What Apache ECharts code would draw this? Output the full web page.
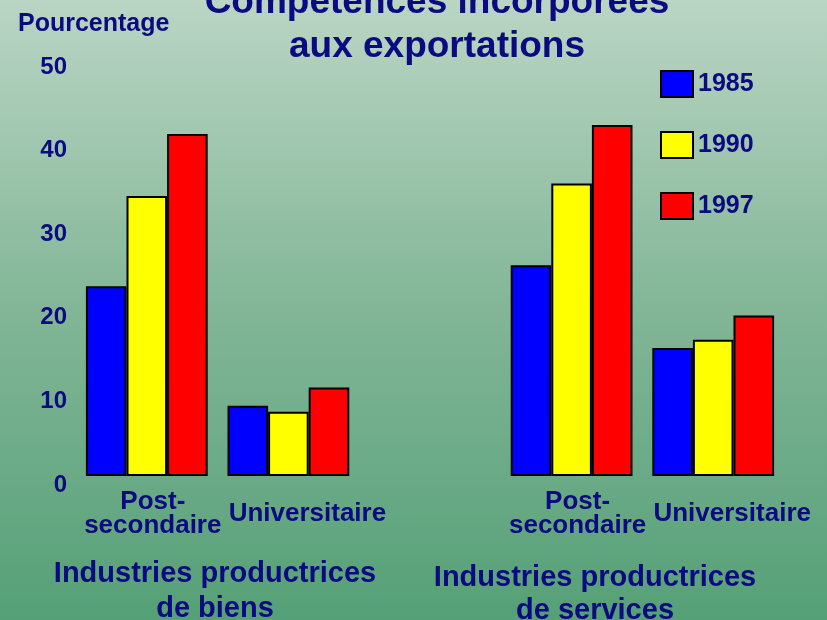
<!DOCTYPE html>
<html>
<head>
<meta charset="utf-8">
<script src="https://cdn.jsdelivr.net/npm/echarts@6/dist/echarts.min.js"></script>
<style>
  html, body { margin: 0; padding: 0; }
  #chart { width: 827px; height: 620px; }
</style>
</head>
<body>
<div id="chart"></div>
<script>
// categories (empty slot between the two industry groups)
const categories = ['Post-\nsecondaire', 'Universitaire', '', 'Post-\nsecondaire', 'Universitaire'];
const years = ['1985', '1990', '1997'];
const colors = ['#0000ff', '#ffff00', '#ff0000'];

// valeurs en pourcentage
const v1985 = [22.7, 8.4, '-', 25.2, 15.3];
const v1990 = [33.5, 7.7, '-', 35.0, 16.3];
const v1997 = [40.9, 10.6, '-', 42.0, 19.2];
const yTicks = [0, 10, 20, 30, 40, 50];

const navy = '#0c0a80';
const font = '"Liberation Sans", Arial, sans-serif';

const chart = echarts.init(document.getElementById('chart'));

const mkSeries = (name, data, i) => ({
	name: name,
	type: 'bar',
	data: data,
	barGap: 0,
	barCategoryGap: '14%',
	itemStyle: {
		color: colors[i],
		borderColor: '#000',
		borderWidth: 2
	},
	animation: false
});

const catStyle = { color: navy, fontFamily: font, fontWeight: 'bold', fontSize: 26, lineHeight: 24 };

chart.setOption({
	backgroundColor: {
		type: 'linear', x: 0, y: 0, x2: 0, y2: 1,
		colorStops: [
			{ offset: 0, color: '#bad5c4' },
			{ offset: 0.5, color: '#82b697' },
			{ offset: 1, color: '#55a077' }
		]
	},
	title: [
		{
			text: 'Compétences incorporées\naux exportations',
			left: 432, top: -24, textAlign: 'center',
			textStyle: { color: navy, fontFamily: font, fontWeight: 'bold', fontSize: 37, lineHeight: 44 }
		},
		{
			text: 'Pourcentage',
			left: 13, top: 7,
			textStyle: { color: navy, fontFamily: font, fontWeight: 'bold', fontSize: 25 }
		},
		{
			text: 'Industries productrices\nde biens',
			left: 210, top: 551, textAlign: 'center',
			textStyle: { color: navy, fontFamily: font, fontWeight: 'bold', fontSize: 29, lineHeight: 35 }
		},
		{
			text: 'Industries productrices\nde services',
			left: 590, top: 556, textAlign: 'center',
			textStyle: { color: navy, fontFamily: font, fontWeight: 'bold', fontSize: 29, lineHeight: 33 }
		}
	],
	legend: {
		orient: 'vertical',
		left: 655, top: 65,
		itemWidth: 32, itemHeight: 26, itemGap: 33,
		icon: 'rect',
		itemStyle: { borderColor: '#000', borderWidth: 2 },
		textStyle: { color: navy, fontFamily: font, fontWeight: 'bold', fontSize: 25 },
		data: years
	},
	grid: { left: 76, right: 43, top: 58, bottom: 144, containLabel: false },
	xAxis: {
		type: 'category',
		data: categories,
		axisLine: { show: false },
		axisTick: { show: false },
		axisLabel: {
			interval: 0,
			margin: 38,
			verticalAlign: 'middle',
			formatter: v => {
				if (v === 'Universitaire') return '{u|' + v + '}';
				if (v === '') return '';
				return v.split('\n').map(s => '{p|' + s + '}').join('\n');
			},
			rich: {
				u: Object.assign({ padding: [0, 0, 0, 38] }, catStyle),
				p: Object.assign({ padding: [0, 0, 0, 12] }, catStyle)
			}
		}
	},
	yAxis: {
		type: 'value',
		min: 0, max: 50, interval: 10,
		axisLine: { show: false },
		axisTick: { show: false },
		splitLine: { show: false },
		axisLabel: {
			margin: 9,
			verticalAlign: 'top',
			lineHeight: 18,
			color: navy, fontFamily: font, fontWeight: 'bold', fontSize: 24,
			formatter: v => yTicks.includes(v) ? String(v) : ''
		}
	},
	series: [
		mkSeries(years[0], v1985, 0),
		mkSeries(years[1], v1990, 1),
		mkSeries(years[2], v1997, 2)
	]
});
</script>
</body>
</html>
